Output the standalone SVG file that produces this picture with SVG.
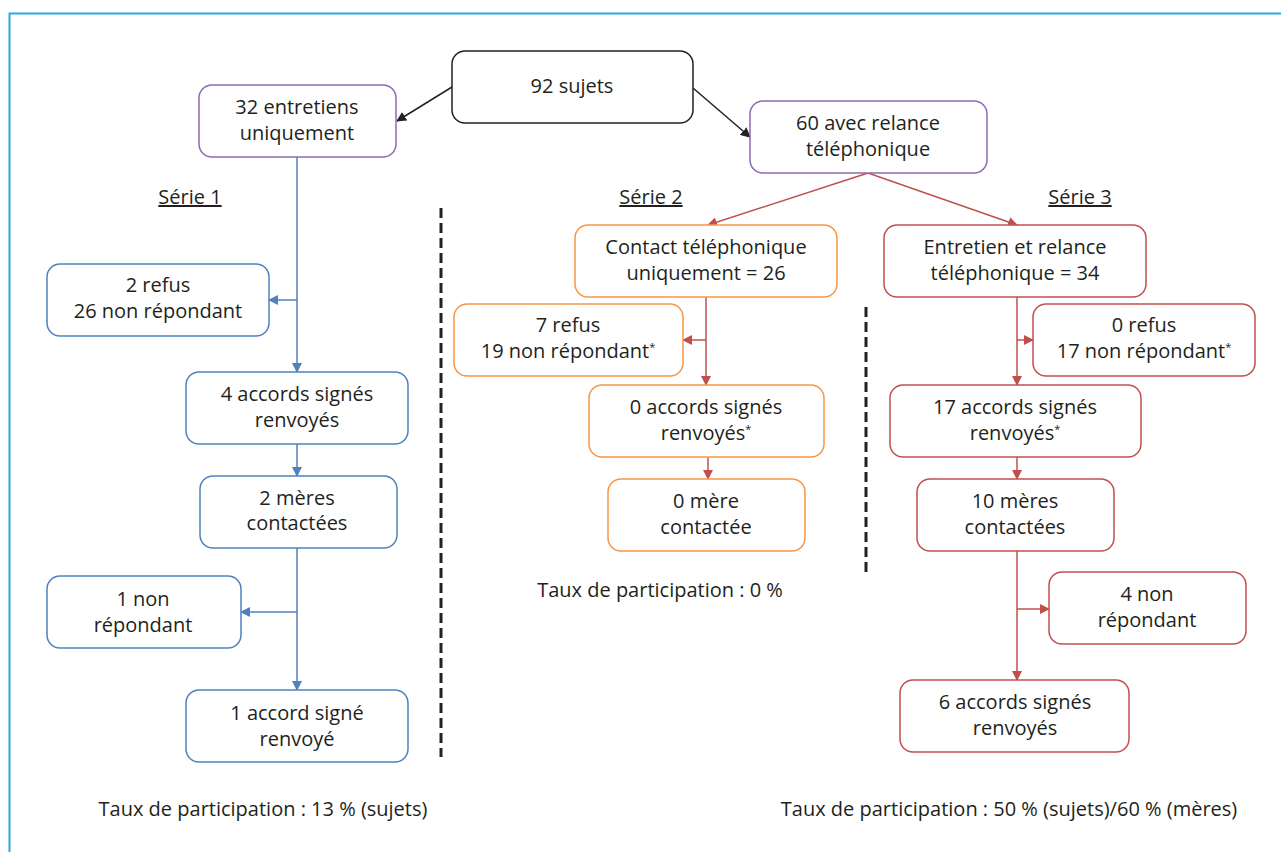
<svg xmlns="http://www.w3.org/2000/svg" width="1281" height="852" viewBox="0 0 1281 852">
<style>
text{font-family:"Open Sans","Liberation Sans",sans-serif;font-size:20px;fill:#231f20;text-anchor:middle}
.n rect{fill:#fff;stroke-width:1.5}
.k rect{stroke:#222}
.p rect{stroke:#8c6bb1}
.b rect{stroke:#4f81bd}
.o rect{stroke:#f79646}
.r rect{stroke:#c0504d}
.c line,.c path{fill:none;stroke-width:1.5}
.ck{stroke:#222}
.cb{stroke:#4f81bd}
.cr{stroke:#c0504d}
.dash{stroke:#222;stroke-width:3;stroke-dasharray:10 5}
.sup{font-size:11px}
.u{text-decoration:underline}
</style>
<defs>
<marker id="ak" markerWidth="10" markerHeight="10" refX="9" refY="5" orient="auto" markerUnits="userSpaceOnUse"><path d="M0,0L10,5L0,10z" fill="#222"/></marker>
<marker id="ab" markerWidth="10" markerHeight="10" refX="9" refY="5" orient="auto" markerUnits="userSpaceOnUse"><path d="M0,0L10,5L0,10z" fill="#4f81bd"/></marker>
<marker id="ar" markerWidth="10" markerHeight="10" refX="9" refY="5" orient="auto" markerUnits="userSpaceOnUse"><path d="M0,0L10,5L0,10z" fill="#c0504d"/></marker>
</defs>
<rect x="9.5" y="13.5" width="1300" height="900" fill="none" stroke="#29abe2" stroke-width="2"/>

<g id="connectors" class="c">
<line class="ck" x1="452" y1="87" x2="397" y2="121" marker-end="url(#ak)"/>
<line class="ck" x1="693" y1="88" x2="750" y2="137" marker-end="url(#ak)"/>
<line class="cb" x1="297" y1="157" x2="297" y2="372" marker-end="url(#ab)"/>
<line class="cb" x1="297" y1="300" x2="269" y2="300" marker-end="url(#ab)"/>
<line class="cb" x1="297" y1="444" x2="297" y2="476" marker-end="url(#ab)"/>
<line class="cb" x1="297" y1="548" x2="297" y2="690" marker-end="url(#ab)"/>
<line class="cb" x1="297" y1="612" x2="241" y2="612" marker-end="url(#ab)"/>
<line class="cr" x1="868" y1="173" x2="708" y2="225" marker-end="url(#ar)"/>
<line class="cr" x1="868" y1="173" x2="1017" y2="225" marker-end="url(#ar)"/>
<line class="cr" x1="706" y1="297" x2="706" y2="385" marker-end="url(#ar)"/>
<line class="cr" x1="706" y1="340" x2="683" y2="340" marker-end="url(#ar)"/>
<line class="cr" x1="708" y1="457" x2="708" y2="479" marker-end="url(#ar)"/>
<line class="cr" x1="1017" y1="297" x2="1017" y2="385" marker-end="url(#ar)"/>
<line class="cr" x1="1017" y1="340" x2="1033" y2="340" marker-end="url(#ar)"/>
<line class="cr" x1="1017" y1="457" x2="1017" y2="479" marker-end="url(#ar)"/>
<line class="cr" x1="1017" y1="551" x2="1017" y2="680" marker-end="url(#ar)"/>
<line class="cr" x1="1017" y1="609" x2="1049" y2="609" marker-end="url(#ar)"/>
</g>

<line class="dash" x1="441" y1="208" x2="441" y2="757"/>
<line class="dash" x1="866" y1="307" x2="866" y2="577"/>

<g id="n92" class="n k"><rect x="452" y="51" width="241" height="72" rx="13"/><text x="572" y="93">92 sujets</text></g>
<g id="n32" class="n p"><rect x="199" y="85" width="197" height="72" rx="13"/><text x="297" y="114">32 entretiens</text><text x="297" y="140">uniquement</text></g>
<g id="n60" class="n p"><rect x="750" y="101" width="237" height="72" rx="13"/><text x="868" y="130">60 avec relance</text><text x="868" y="156">téléphonique</text></g>

<text id="s1" class="u" x="190" y="204">Série 1</text>
<text id="s2" class="u" x="651" y="204">Série 2</text>
<text id="s3" class="u" x="1080" y="204">Série 3</text>

<g id="b1" class="n b"><rect x="47" y="264" width="222" height="72" rx="13"/><text x="158" y="292">2 refus</text><text x="158" y="318">26 non répondant</text></g>
<g id="b2" class="n b"><rect x="186" y="372" width="222" height="72" rx="13"/><text x="297" y="401">4 accords signés</text><text x="297" y="427">renvoyés</text></g>
<g id="b3" class="n b"><rect x="200" y="476" width="197" height="72" rx="13"/><text x="297" y="505">2 mères</text><text x="297" y="530">contactées</text></g>
<g id="b4" class="n b"><rect x="47" y="576" width="194" height="72" rx="13"/><text x="143" y="606">1 non</text><text x="143" y="632">répondant</text></g>
<g id="b5" class="n b"><rect x="186" y="690" width="222" height="72" rx="13"/><text x="297" y="720">1 accord signé</text><text x="297" y="746">renvoyé</text></g>
<text x="263" y="816">Taux de participation : 13 % (sujets)</text>

<g id="o1" class="n o"><rect x="575" y="225" width="262" height="72" rx="13"/><text x="706" y="254">Contact téléphonique</text><text x="706" y="280">uniquement = 26</text></g>
<g id="o2" class="n o"><rect x="454" y="304" width="229" height="72" rx="13"/><text x="568" y="332">7 refus</text><text x="568" y="358">19 non répondant<tspan class="sup" dy="-7">*</tspan></text></g>
<g id="o3" class="n o"><rect x="589" y="385" width="235" height="72" rx="13"/><text x="706" y="414">0 accords signés</text><text x="706" y="440">renvoyés<tspan class="sup" dy="-7">*</tspan></text></g>
<g id="o4" class="n o"><rect x="608" y="479" width="197" height="72" rx="13"/><text x="706" y="508">0 mère</text><text x="706" y="534">contactée</text></g>
<text x="660" y="597">Taux de participation : 0 %</text>

<g id="r1" class="n r"><rect x="884" y="225" width="262" height="72" rx="13"/><text x="1015" y="254">Entretien et relance</text><text x="1015" y="280">téléphonique = 34</text></g>
<g id="r2" class="n r"><rect x="1033" y="304" width="222" height="72" rx="13"/><text x="1144" y="332">0 refus</text><text x="1144" y="358">17 non répondant<tspan class="sup" dy="-7">*</tspan></text></g>
<g id="r3" class="n r"><rect x="890" y="385" width="251" height="72" rx="13"/><text x="1015" y="414">17 accords signés</text><text x="1015" y="440">renvoyés<tspan class="sup" dy="-7">*</tspan></text></g>
<g id="r4" class="n r"><rect x="917" y="479" width="197" height="72" rx="13"/><text x="1015" y="508">10 mères</text><text x="1015" y="534">contactées</text></g>
<g id="r5" class="n r"><rect x="1049" y="572" width="197" height="72" rx="13"/><text x="1147" y="601">4 non</text><text x="1147" y="627">répondant</text></g>
<g id="r6" class="n r"><rect x="900" y="680" width="229" height="72" rx="13"/><text x="1015" y="709">6 accords signés</text><text x="1015" y="735">renvoyés</text></g>
<text x="1009" y="816">Taux de participation : 50 % (sujets)/60 % (mères)</text>
</svg>
